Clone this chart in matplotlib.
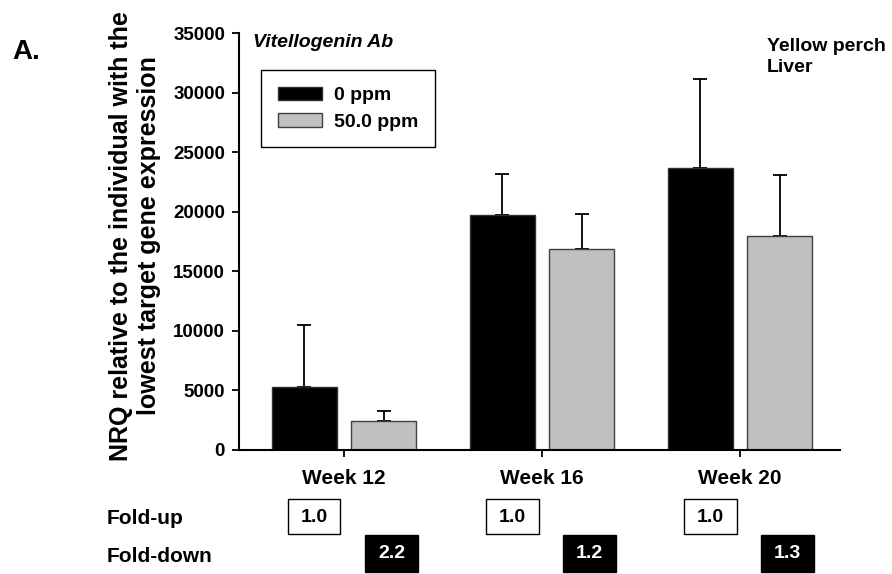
import matplotlib.pyplot as plt
import matplotlib.transforms as mtransforms
from matplotlib.patches import Rectangle
import numpy as np

plt.rcParams['font.family'] = ['Liberation Sans', 'DejaVu Sans']
plt.rcParams['font.weight'] = 'bold'

# data
weeks = ["Week 12", "Week 16", "Week 20"]
series_names = ["0 ppm", "50.0 ppm"]
nrq_0ppm = [5300, 19700, 23700]
nrq_50ppm = [2450, 16900, 18000]
err_0ppm = [5200, 3500, 7400]
err_50ppm = [800, 2900, 5100]
fold_up = ["1.0", "1.0", "1.0"]
fold_down = ["2.2", "1.2", "1.3"]

fig = plt.figure(figsize=(8.92, 5.74), dpi=100)
ax = fig.add_axes([239/892, 1-450/574, (840-239)/892, (450-33)/574])

x = np.arange(len(weeks))
w = 0.325
ax.bar(x - 0.2, nrq_0ppm, w, color='black', edgecolor='#303030', lw=1,
       label=series_names[0], zorder=2)
ax.bar(x + 0.2, nrq_50ppm, w, color='#c0c0c0', edgecolor='#404040', lw=1,
       label=series_names[1], zorder=2)
ax.errorbar(x - 0.2, nrq_0ppm, yerr=[np.zeros(3), err_0ppm], fmt='none',
            ecolor='black', elinewidth=1.3, capsize=5, capthick=1.3, zorder=1)
ax.errorbar(x + 0.2, nrq_50ppm, yerr=[np.zeros(3), err_50ppm], fmt='none',
            ecolor='black', elinewidth=1.3, capsize=5, capthick=1.3, zorder=1)

ax.set_xlim(-0.53, 2.505)
ax.set_ylim(0, 35000)
ax.set_yticks(range(0, 35001, 5000))
ax.set_xticks(x)
ax.set_xticklabels(weeks, fontsize=15, fontweight='bold')
ax.tick_params(axis='x', length=5, width=1.3, pad=9)
ax.tick_params(axis='y', length=5, width=1.3, labelsize=13.5, pad=5)
for s in ['top', 'right']:
    ax.spines[s].set_visible(False)
for s in ['left', 'bottom']:
    ax.spines[s].set_linewidth(1.5)

leg = ax.legend(loc='upper left', bbox_to_anchor=(0.037, 0.911), borderaxespad=0,
                fontsize=14, handlelength=2.3, handleheight=0.7, fancybox=False,
                edgecolor='black', framealpha=1, borderpad=0.85, labelspacing=0.45,
                handletextpad=0.6)
leg.get_frame().set_linewidth(1.0)

ax.text(0.024, 0.977, "Vitellogenin Ab", transform=ax.transAxes, fontsize=14,
        style='italic', fontweight='bold', va='center')
fig.text(767/892, 1-57/574, "Yellow perch\nLiver", fontsize=14, fontweight='bold',
         va='center', ha='left', linespacing=1.3)
fig.text(12/892, 1-52/574, "A.", fontsize=20, fontweight='bold', va='center')

fig.text(135/892, 1-236/574,
         "NRQ relative to the individual with the\nlowest target gene expression",
         rotation=90, fontsize=18, fontweight='bold', ha='center', va='center',
         multialignment='center', linespacing=1.25)

# fold-change table below the axis
trans = mtransforms.blended_transform_factory(ax.transData, fig.transFigure)
fig.text(107/892, 1-518/574, "Fold-up", fontsize=15, fontweight='bold', va='center')
fig.text(107/892, 1-556/574, "Fold-down", fontsize=15, fontweight='bold', va='center')
bw = 0.265
for i in range(len(weeks)):
    cx_up = x[i] - 0.15
    cx_dn = x[i] + 0.24
    ax.add_patch(Rectangle((cx_up - bw/2, 1-534/574), bw, 35/574, transform=trans,
                           fc='white', ec='black', lw=1, clip_on=False))
    ax.text(cx_up, 1-517/574, fold_up[i], transform=trans, ha='center', va='center',
            fontsize=14, fontweight='bold', color='black', clip_on=False)
    ax.add_patch(Rectangle((cx_dn - bw/2, 1-572/574), bw, 37/574, transform=trans,
                           fc='black', ec='black', lw=1, clip_on=False))
    ax.text(cx_dn, 1-554/574, fold_down[i], transform=trans, ha='center', va='center',
            fontsize=14, fontweight='bold', color='white', clip_on=False)

fig.savefig('out.png', dpi=100)
